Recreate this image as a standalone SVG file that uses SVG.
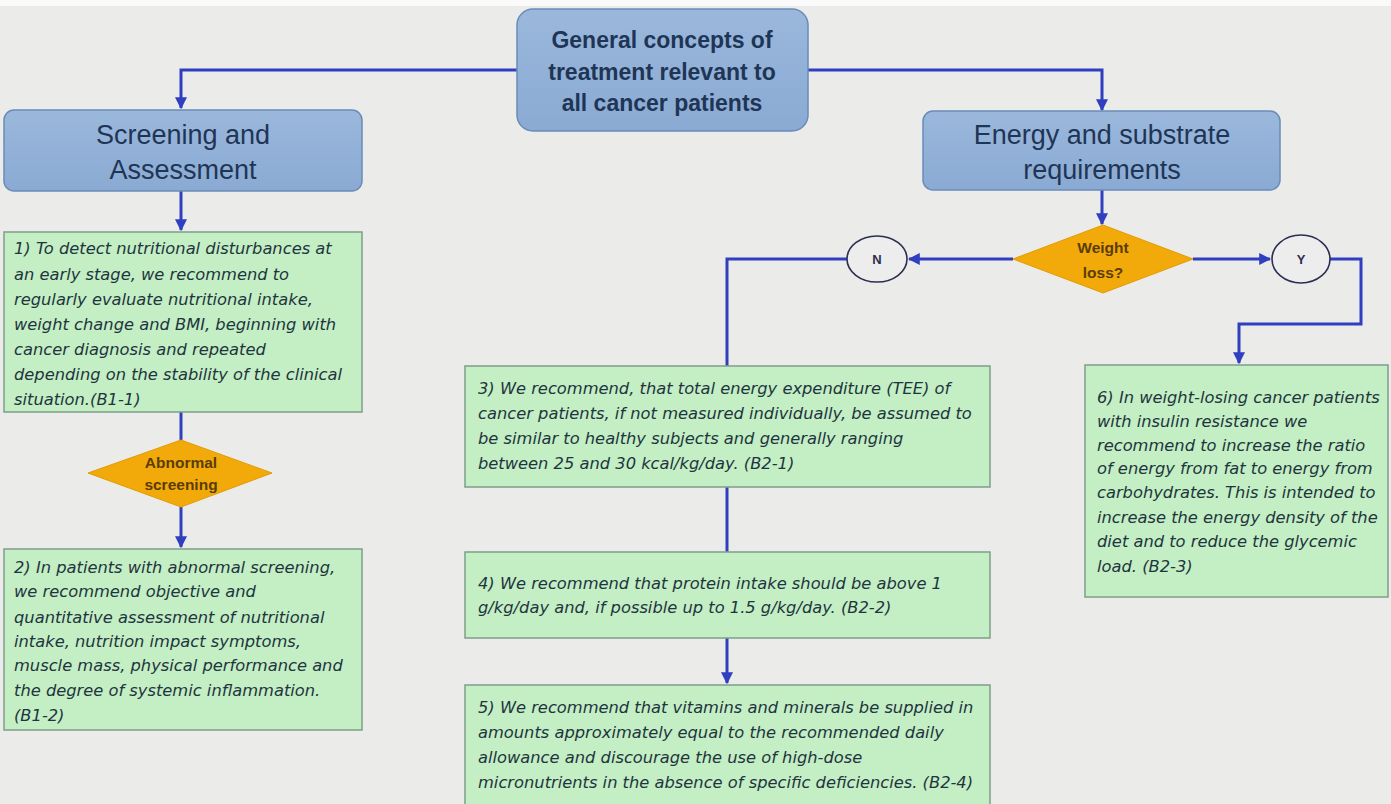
<svg xmlns="http://www.w3.org/2000/svg" width="1391" height="804" viewBox="0 0 1391 804">
<defs>
<linearGradient id="bg" x1="0" y1="0" x2="0" y2="1"><stop offset="0" stop-color="#9bb8dc"/><stop offset="1" stop-color="#8aaad3"/></linearGradient>
<marker id="ah" viewBox="0 0 10 10" refX="9" refY="5" markerWidth="4" markerHeight="4" orient="auto" markerUnits="strokeWidth"><path d="M0,0 L10,5 L0,10 z" fill="#2f3fbf"/></marker>
<style>
.hdr{fill:url(#bg);stroke:#6a8cb8;stroke-width:1.5}
.ht{font-family:"Liberation Sans",Arial,sans-serif;fill:#1f3556;text-anchor:middle}
.grn{fill:#c4eec3;stroke:#7f9f8a;stroke-width:1.5}
.gt{font-family:"DejaVu Sans","Liberation Sans",sans-serif;font-style:italic;font-size:16.3px;fill:#1e3540}
.dia{fill:#f2aa0a;stroke:#e39b00;stroke-width:1}
.dt{font-family:"Liberation Sans",Arial,sans-serif;font-size:15.5px;font-weight:bold;fill:#5a3c05;text-anchor:middle}
.circ{fill:#ededed;stroke:#2b2f4f;stroke-width:1.6}
.ct{font-family:"Liberation Sans",Arial,sans-serif;font-size:13px;font-weight:bold;fill:#2b2f4f;text-anchor:middle}
.con{fill:none;stroke:#2f3fbf;stroke-width:3}
</style>
</defs>
<rect x="0" y="0" width="1391" height="804" fill="#ebebea"/>
<rect x="0" y="0" width="1391" height="6" fill="#fafafa"/>
<g id="connectors">
<path class="con" d="M517,70 H181 V108" marker-end="url(#ah)"/>
<path class="con" d="M808,70 H1102 V110" marker-end="url(#ah)"/>
<path class="con" d="M181,191 V230" marker-end="url(#ah)"/>
<path class="con" d="M181,412 V440"/>
<path class="con" d="M181,507 V547" marker-end="url(#ah)"/>
<path class="con" d="M1102,190 V224" marker-end="url(#ah)"/>
<path class="con" d="M1013,259 H909" marker-end="url(#ah)"/>
<path class="con" d="M847,259 H727 V366"/>
<path class="con" d="M1193,259 H1270" marker-end="url(#ah)"/>
<path class="con" d="M1330,259 H1361 V324 H1239 V363" marker-end="url(#ah)"/>
<path class="con" d="M727,487 V552"/>
<path class="con" d="M727,638 V683" marker-end="url(#ah)"/>
</g>
<g id="general">
<rect class="hdr" x="517" y="9" width="291" height="122" rx="16"/>
<text class="ht" font-size="23" font-weight="bold"><tspan x="662" y="48">General concepts of</tspan><tspan x="662" y="80">treatment relevant to</tspan><tspan x="662" y="111">all cancer patients</tspan></text>
</g>
<g id="screening">
<rect class="hdr" x="4" y="110" width="358" height="81" rx="10"/>
<text class="ht" font-size="27"><tspan x="183" y="144">Screening and</tspan><tspan x="183" y="179">Assessment</tspan></text>
</g>
<g id="energy">
<rect class="hdr" x="923" y="111" width="357" height="79" rx="10"/>
<text class="ht" font-size="27"><tspan x="1102" y="144">Energy and substrate</tspan><tspan x="1102" y="179">requirements</tspan></text>
</g>
<g id="box1">
<rect class="grn" x="4" y="232" width="358" height="180"/>
<text class="gt"><tspan x="14" y="254">1) To detect nutritional disturbances at</tspan><tspan x="14" y="280">an early stage, we recommend to</tspan><tspan x="14" y="305">regularly evaluate nutritional intake,</tspan><tspan x="14" y="330">weight change and BMI, beginning with</tspan><tspan x="14" y="355">cancer diagnosis and repeated</tspan><tspan x="14" y="380">depending on the stability of the clinical</tspan><tspan x="14" y="405">situation.(B1-1)</tspan></text>
</g>
<g id="abnormal">
<polygon class="dia" points="181,440 272,473 181,507 88,473"/>
<text class="dt"><tspan x="181" y="468">Abnormal</tspan><tspan x="181" y="490">screening</tspan></text>
</g>
<g id="box2">
<rect class="grn" x="4" y="549" width="358" height="181"/>
<text class="gt"><tspan x="14" y="573">2) In patients with abnormal screening,</tspan><tspan x="14" y="597">we recommend objective and</tspan><tspan x="14" y="623">quantitative assessment of nutritional</tspan><tspan x="14" y="647">intake, nutrition impact symptoms,</tspan><tspan x="14" y="671">muscle mass, physical performance and</tspan><tspan x="14" y="696">the degree of systemic inflammation.</tspan><tspan x="14" y="721">(B1-2)</tspan></text>
</g>
<g id="weightloss">
<polygon class="dia" points="1103,225 1193,259 1103,293 1013,259"/>
<text class="dt"><tspan x="1103" y="253">Weight</tspan><tspan x="1103" y="278">loss?</tspan></text>
</g>
<g id="n">
<ellipse class="circ" cx="877" cy="259" rx="30" ry="23"/>
<text class="ct" x="877" y="264">N</text>
</g>
<g id="y">
<ellipse class="circ" cx="1301" cy="259" rx="29" ry="24"/>
<text class="ct" x="1301" y="264">Y</text>
</g>
<g id="box3">
<rect class="grn" x="465" y="366" width="525" height="121"/>
<text class="gt"><tspan x="478" y="394">3) We recommend, that total energy expenditure (TEE) of</tspan><tspan x="478" y="419">cancer patients, if not measured individually, be assumed to</tspan><tspan x="478" y="444">be similar to healthy subjects and generally ranging</tspan><tspan x="478" y="469">between 25 and 30 kcal/kg/day. (B2-1)</tspan></text>
</g>
<g id="box4">
<rect class="grn" x="465" y="552" width="525" height="86"/>
<text class="gt"><tspan x="478" y="589">4) We recommend that protein intake should be above 1</tspan><tspan x="478" y="613">g/kg/day and, if possible up to 1.5 g/kg/day. (B2-2)</tspan></text>
</g>
<g id="box5">
<rect class="grn" x="465" y="685" width="525" height="130"/>
<text class="gt"><tspan x="478" y="713">5) We recommend that vitamins and minerals be supplied in</tspan><tspan x="478" y="738">amounts approximately equal to the recommended daily</tspan><tspan x="478" y="763">allowance and discourage the use of high-dose</tspan><tspan x="478" y="788">micronutrients in the absence of specific deficiencies. (B2-4)</tspan></text>
</g>
<g id="box6">
<rect class="grn" x="1085" y="365" width="303" height="232"/>
<text class="gt"><tspan x="1097" y="403">6) In weight-losing cancer patients</tspan><tspan x="1097" y="427">with insulin resistance we</tspan><tspan x="1097" y="451">recommend to increase the ratio</tspan><tspan x="1097" y="474">of energy from fat to energy from</tspan><tspan x="1097" y="498">carbohydrates. This is intended to</tspan><tspan x="1097" y="523">increase the energy density of the</tspan><tspan x="1097" y="547">diet and to reduce the glycemic</tspan><tspan x="1097" y="572">load. (B2-3)</tspan></text>
</g>
</svg>
